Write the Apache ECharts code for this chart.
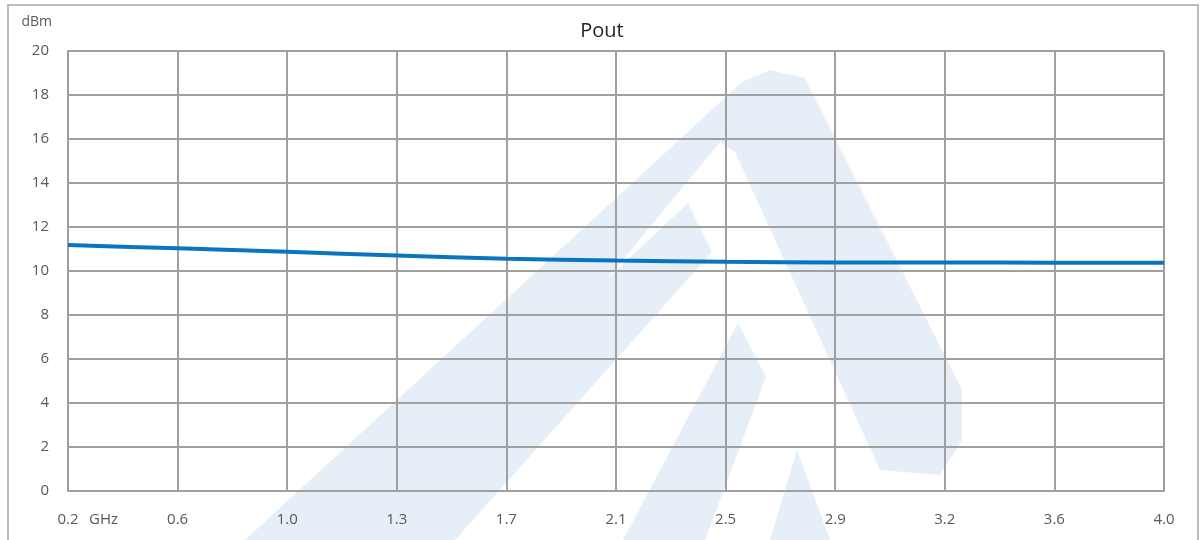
<!DOCTYPE html>
<html>
<head>
<meta charset="utf-8">
<script src="https://cdn.jsdelivr.net/npm/echarts@6/dist/echarts.min.js"></script>
<style>
html,body{margin:0;padding:0;background:#fff;}
#c{width:1204px;height:540px;}
</style>
</head>
<body>
<div id="c"></div>
<script>
const titleText = 'Pout';
const yUnit = 'dBm';
const xUnit = 'GHz';
const freqLabels = ['0.2', '0.6', '1.0', '1.3', '1.7', '2.1', '2.5', '2.9', '3.2', '3.6', '4.0'];
const poutValues = [11.18, 11.03, 10.87, 10.71, 10.56, 10.48, 10.42, 10.39, 10.39, 10.38, 10.37];
const yMin = 0, yMax = 20, yStep = 2;

const wm = '#e6eef7';
const chart = echarts.init(document.getElementById('c'), null, {renderer: 'canvas'});
const font = '"Open Sans", "Liberation Sans", sans-serif';
chart.setOption({
  animation: false,
  backgroundColor: '#fff',
  title: {
    text: titleText, left: 'center', top: 16,
    textStyle: {fontFamily: font, fontSize: 20, fontWeight: 'normal', color: '#262626'}
  },
  grid: {left: 68, right: 40, top: 51, bottom: 49},
  graphic: {elements: [
    {type: 'rect', z: -100, shape: {x: 8, y: 5, width: 1190, height: 560}, style: {fill: 'none', stroke: '#a6a6a6', lineWidth: 1.5}},
    {type: 'polygon', z: -90, shape: {points: [[245,540],[392,540],[720,142],[742,82]]}, style: {fill: wm}},
    {type: 'polygon', z: -90, shape: {points: [[720,142],[742,82],[770,70],[805,78],[962,390],[962,440],[940,475],[880,470],[735,152]]}, style: {fill: wm}},
    {type: 'polygon', z: -90, shape: {points: [[330,540],[455,540],[712,252],[688,203]]}, style: {fill: wm}},
    {type: 'polygon', z: -90, shape: {points: [[623,540],[705,540],[766,377],[738,323]]}, style: {fill: wm}},
    {type: 'polygon', z: -90, shape: {points: [[770,540],[830,540],[797,450]]}, style: {fill: wm}},
    {type: 'text', z: 10, left: 89, top: 512, style: {text: xUnit, fontFamily: font, fontSize: 15, fill: '#595959'}}
  ]},
  xAxis: {
    type: 'category', data: freqLabels, boundaryGap: false,
    axisLine: {show: true, lineStyle: {color: '#a0a0a0', width: 2}},
    axisTick: {show: false},
    axisLabel: {margin: 21, fontFamily: font, fontSize: 15, color: '#595959'},
    splitLine: {show: true, lineStyle: {color: '#a0a0a0', width: 2}}
  },
  yAxis: {
    type: 'value', min: yMin, max: yMax, interval: yStep,
    name: yUnit, nameLocation: 'end', nameGap: 22,
    nameTextStyle: {fontFamily: font, fontSize: 14, color: '#595959', align: 'right', padding: [0, 16, 0, 0]},
    axisLine: {show: true, lineStyle: {color: '#a0a0a0', width: 2}},
    axisTick: {show: false},
    axisLabel: {margin: 19, fontFamily: font, fontSize: 15, color: '#595959'},
    splitLine: {show: true, lineStyle: {color: '#a0a0a0', width: 2}}
  },
  series: [{
    type: 'line', data: poutValues, smooth: 0.3, symbol: 'none',
    lineStyle: {color: '#0a74bf', width: 4}
  }]
});
</script>
</body>
</html>
